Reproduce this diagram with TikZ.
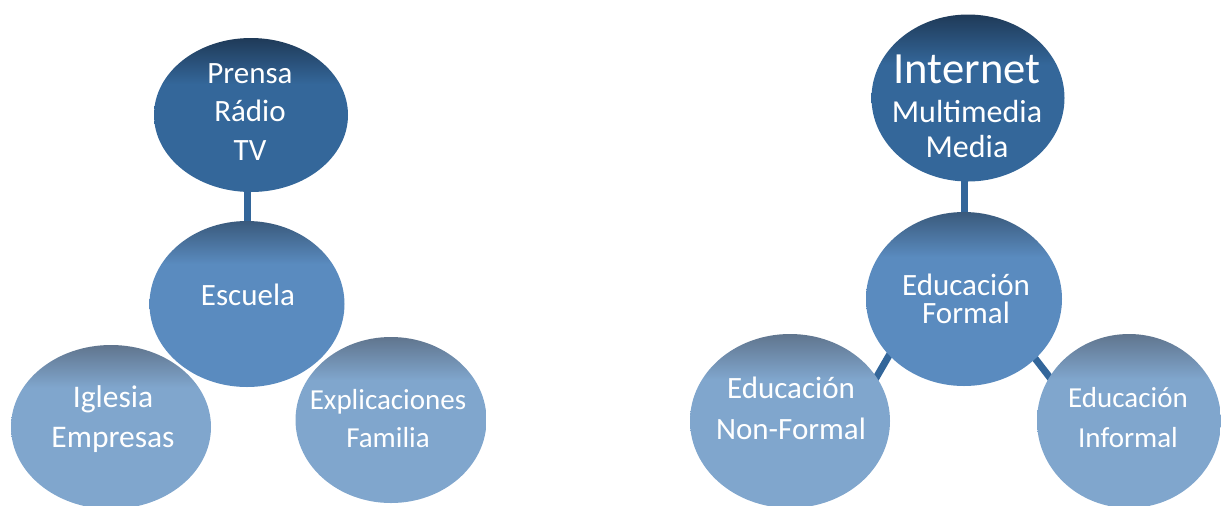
\documentclass[tikz,border=0pt]{standalone}
\usepackage{fontspec}
\setmainfont{Carlito}
\usetikzlibrary{shapes,backgrounds}

\definecolor{topbase}{HTML}{34679A}
\definecolor{topdark}{HTML}{1F3A58}
\definecolor{midbase}{HTML}{5A8BBF}
\definecolor{middark}{HTML}{3A5A7C}
\definecolor{lowbase}{HTML}{80A6CD}
\definecolor{lowdark}{HTML}{60758E}
\definecolor{linkblue}{HTML}{33669A}

\pgfdeclareverticalshading{topshade}{100bp}{color(0bp)=(topbase); color(60bp)=(topbase); color(75bp)=(topdark); color(100bp)=(topdark)}
\pgfdeclareverticalshading{midshade}{100bp}{color(0bp)=(midbase); color(62bp)=(midbase); color(75bp)=(middark); color(100bp)=(middark)}
\pgfdeclareverticalshading{lowshade}{100bp}{color(0bp)=(lowbase); color(62bp)=(lowbase); color(75bp)=(lowdark); color(100bp)=(lowdark)}

\newcommand{\tightlines}{\lineskiplimit=-10pt\lineskip=0pt\relax}

\begin{document}
\begin{tikzpicture}[x=0.5pt,y=-0.5pt,
  bubble/.style={ellipse,inner sep=0pt},
  lvltop/.style={bubble,shading=topshade},
  lvlmid/.style={bubble,shading=midshade},
  lvllow/.style={bubble,shading=lowshade},
  bubtext/.style={text=white,align=center,inner sep=0pt},
  link/.style={draw=linkblue,line width=3.5pt}]
\useasboundingbox (0,0) rectangle (1221,505);

% left group
\node[lvltop,minimum width=97pt,minimum height=77pt] (prensa) at (251,115) {};
\node[lvlmid,minimum width=97.5pt,minimum height=83pt] (escuela) at (247,304) {};
\node[lvllow,minimum width=100pt,minimum height=82pt] (iglesia) at (111,427) {};
\node[lvllow,minimum width=95.5pt,minimum height=83pt] (explic) at (391,420) {};

\node[bubtext,font=\fontsize{15.5}{19.25}\selectfont] (prensa-t) at (250,112) {Prensa\\Rádio\\TV};
\node[bubtext,font=\fontsize{15.5}{19}\selectfont] (escuela-t) at (248,295) {Escuela};
\node[bubtext,font=\fontsize{15.75}{20}\selectfont] (iglesia-t) at (113,419) {Iglesia\\Empresas};
\node[bubtext,font=\fontsize{14.5}{19}\selectfont] (explic-t) at (388,419) {Explicaciones\\Familia};

% right group
\node[lvltop,minimum width=96.5pt,minimum height=83.5pt] (internet) at (968,98) {};
\node[lvlmid,minimum width=98pt,minimum height=87pt] (formal) at (964,299) {};
\node[lvllow,minimum width=100pt,minimum height=87pt] (nonformal) at (790,421) {};
\node[lvllow,minimum width=92pt,minimum height=87pt] (informal) at (1129,421) {};

\node[bubtext,font=\fontsize{16}{19.5}\selectfont] (internet-t) at (967,106)
  {{\fontsize{22.3}{19.5}\selectfont Internet}\\Multimedia\\[-2pt]Media};
\node[bubtext,font=\fontsize{15.5}{14.25}\selectfont\tightlines] (formal-t) at (966,299) {Educación\\Formal};
\node[bubtext,font=\fontsize{15.5}{20.5}\selectfont] (nonformal-t) at (791,408) {Educación\\Non-Formal};
\node[bubtext,font=\fontsize{14.5}{20}\selectfont] (informal-t) at (1128,418) {Educación\\Informal};

\begin{scope}[on background layer]
\draw[link] (escuela.center) -- (escuela.center |- prensa.center);
\draw[link] (formal.center) -- (formal.center |- internet.center);
\draw[link,shorten <=-4pt,shorten >=-4pt] (formal.217) -- (nonformal.27);
\draw[link,shorten <=-4pt,shorten >=-4pt] (formal.320) -- (informal.151);
\end{scope}
\end{tikzpicture}
\end{document}
